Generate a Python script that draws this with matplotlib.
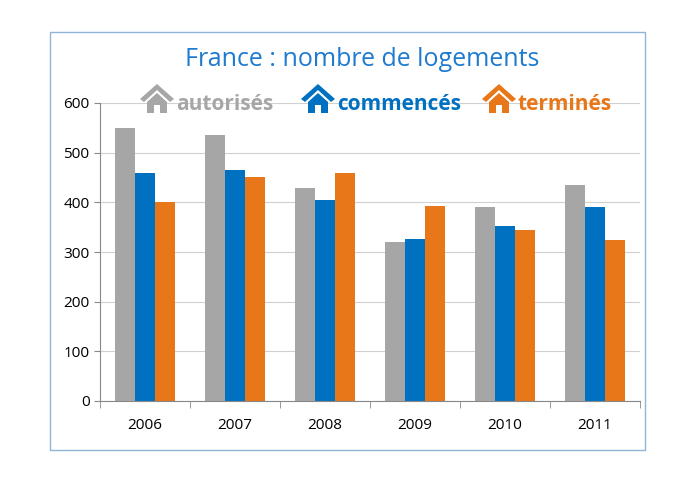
import numpy as np
import matplotlib.pyplot as plt
from matplotlib.patches import Polygon, Rectangle

plt.rcParams['font.family'] = 'Open Sans'

years = ['2006', '2007', '2008', '2009', '2010', '2011']
autorises = [550, 535, 428, 320, 390, 435]
commences = [460, 465, 405, 326, 353, 390]
termines = [400, 450, 460, 393, 345, 325]

GRAY, BLUE, ORANGE = '#a6a6a6', '#0070c0', '#e8771a'
W, H = 695, 483

fig = plt.figure(figsize=(W / 100, H / 100), dpi=100)
# outer frame
fig.patches.append(Rectangle((50 / W, 1 - 450 / H), 595 / W, 418 / H,
                             transform=fig.transFigure, fill=False,
                             edgecolor='#8fb4d9', lw=1))

ax = fig.add_axes([100 / W, 1 - 401 / H, 540 / W, 298 / H])
x = np.arange(len(years))
bw = 0.22
ax.bar(x - bw, autorises, bw, color=GRAY)
ax.bar(x, commences, bw, color=BLUE)
ax.bar(x + bw, termines, bw, color=ORANGE)

ax.set_xlim(-0.5, len(years) - 0.5)
ax.set_ylim(0, 600)
ax.set_yticks(range(0, 601, 100))
ax.set_xticks(x)
ax.set_xticklabels(years)
ax.set_xticks(np.arange(-0.5, len(years)), minor=True)
ax.tick_params(axis='x', which='major', length=0, pad=12, labelsize=11)
ax.tick_params(axis='x', which='minor', length=5, color='#888888')
ax.tick_params(axis='y', length=4, labelsize=11, color='#888888')
ax.yaxis.grid(True, color='#d0d0d0', lw=0.8)
ax.set_axisbelow(True)
for s in ['top', 'right']:
    ax.spines[s].set_visible(False)
ax.spines['left'].set_color('#888888')
ax.spines['bottom'].set_color('#888888')

fig.text(362 / W, 1 - 60 / H, 'France : nombre de logements', ha='center',
         va='center', fontsize=18, color='#1f7bd0')


def house(x0, yc, color):
    # simple house icon in pixel coords, converted to figure fraction
    def p(px, py):
        return (px / W, 1 - py / H)
    s = 1.0
    roof = [p(x0, yc - 2), p(x0 + 17, yc - 17), p(x0 + 34, yc - 2),
            p(x0 + 30, yc + 1), p(x0 + 17, yc - 11), p(x0 + 4, yc + 1)]
    body = [p(x0 + 7, yc + 1), p(x0 + 17, yc - 8), p(x0 + 27, yc + 1),
            p(x0 + 27, yc + 12), p(x0 + 7, yc + 12)]
    door = [p(x0 + 14, yc + 12), p(x0 + 14, yc + 4), p(x0 + 20, yc + 4),
            p(x0 + 20, yc + 12)]
    for pts, c in [(roof, color), (body, color), (door, 'white')]:
        fig.patches.append(Polygon(pts, closed=True, transform=fig.transFigure,
                                   facecolor=c, edgecolor='none'))


for hx, tx, label, c in [(140, 176, 'autorisés', GRAY),
                         (301, 337, 'commencés', BLUE),
                         (482, 517, 'terminés', ORANGE)]:
    house(hx, 101, c)
    fig.text(tx / W, 1 - 104 / H, label, ha='left', va='center',
             fontsize=15, fontweight='bold', color=c)

fig.savefig('out.png', dpi=100)
